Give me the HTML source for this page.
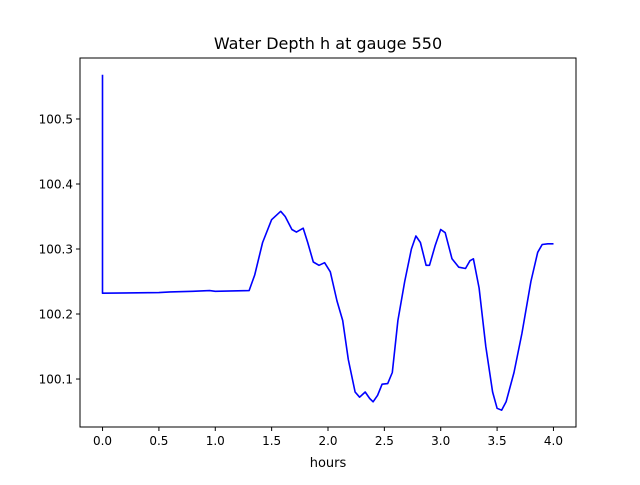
<!DOCTYPE html>
<html><head><meta charset="utf-8"><style>
body{margin:0;background:#fff}
svg{font-family:"DejaVu Sans","Liberation Sans",sans-serif}
</style></head><body>
<svg id="chart" width="640" height="480" xmlns="http://www.w3.org/2000/svg">
<rect width="640" height="480" fill="#fff"/>
<text x="328" y="49" font-size="16" text-anchor="middle">Water Depth h at gauge 550</text>
<g id="plot"></g>
<rect x="80" y="58" width="496" height="369" fill="none" stroke="#000" stroke-width="1"/>
<text x="328" y="467" font-size="13" text-anchor="middle">hours</text>
</svg>
<script>
const times=[0,0,0.5,0.6,0.8,0.95,1.0,1.3,1.35,1.42,1.5,1.58,1.62,1.68,1.72,1.78,1.82,1.87,1.92,1.97,2.02,2.08,2.13,2.18,2.24,2.28,2.33,2.37,2.4,2.44,2.48,2.53,2.57,2.62,2.68,2.74,2.78,2.82,2.87,2.9,2.95,3.0,3.04,3.1,3.16,3.22,3.26,3.29,3.34,3.4,3.46,3.5,3.54,3.58,3.65,3.72,3.8,3.86,3.9,3.95,4.0];
const depths=[100.568,100.232,100.233,100.234,100.235,100.236,100.235,100.236,100.26,100.31,100.345,100.358,100.35,100.33,100.326,100.332,100.31,100.28,100.275,100.279,100.265,100.22,100.19,100.13,100.08,100.072,100.08,100.07,100.065,100.075,100.092,100.093,100.11,100.19,100.25,100.3,100.32,100.31,100.275,100.275,100.305,100.33,100.325,100.285,100.272,100.27,100.282,100.285,100.24,100.15,100.08,100.055,100.052,100.065,100.11,100.17,100.25,100.295,100.307,100.308,100.308];
const xTicks=[0,0.5,1,1.5,2,2.5,3,3.5,4];
const xTickLabels=["0.0","0.5","1.0","1.5","2.0","2.5","3.0","3.5","4.0"];
const yTicks=[100.1,100.2,100.3,100.4,100.5];
const yTickLabels=["100.1","100.2","100.3","100.4","100.5"];
const NS="http://www.w3.org/2000/svg";
const svg=document.getElementById('chart');
const L=80,R=576,T=58,B=427;
const xmin=Math.min(...times),xmax=Math.max(...times);
const ymin=Math.min(...depths),ymax=Math.max(...depths);
const xm=(xmax-xmin)*0.05,ym=(ymax-ymin)*0.05;
const X=v=>L+(v-(xmin-xm))/((xmax+xm)-(xmin-xm))*(R-L);
const Y=v=>B-(v-(ymin-ym))/((ymax+ym)-(ymin-ym))*(B-T);
function el(t,a){const e=document.createElementNS(NS,t);for(const k in a)e.setAttribute(k,a[k]);svg.appendChild(e);return e;}
xTicks.forEach((t,i)=>{
 const l=el('line',{x1:X(t),x2:X(t),y1:B,y2:B+4,stroke:'#000'});
 
 
 const tx=el('text',{x:X(t),y:B+18,'font-size':'12','text-anchor':'middle'});
 tx.textContent=xTickLabels[i];
 
 
});
yTicks.forEach((t,i)=>{
 const l=el('line',{x1:L-4,x2:L,y1:Y(t),y2:Y(t),stroke:'#000'});
 
 
 const tx=el('text',{x:L-7,y:Y(t)+4.5,'font-size':'12','text-anchor':'end'});
 tx.textContent=yTickLabels[i];
 
 
});
const pts=times.map((t,i)=>X(t).toFixed(1)+','+Y(depths[i]).toFixed(1)).join(' ');
const line=el('polyline',{points:pts,fill:'none',stroke:'#0000ff','stroke-width':'1.6','stroke-linejoin':'round'});


</script>
</body></html>
